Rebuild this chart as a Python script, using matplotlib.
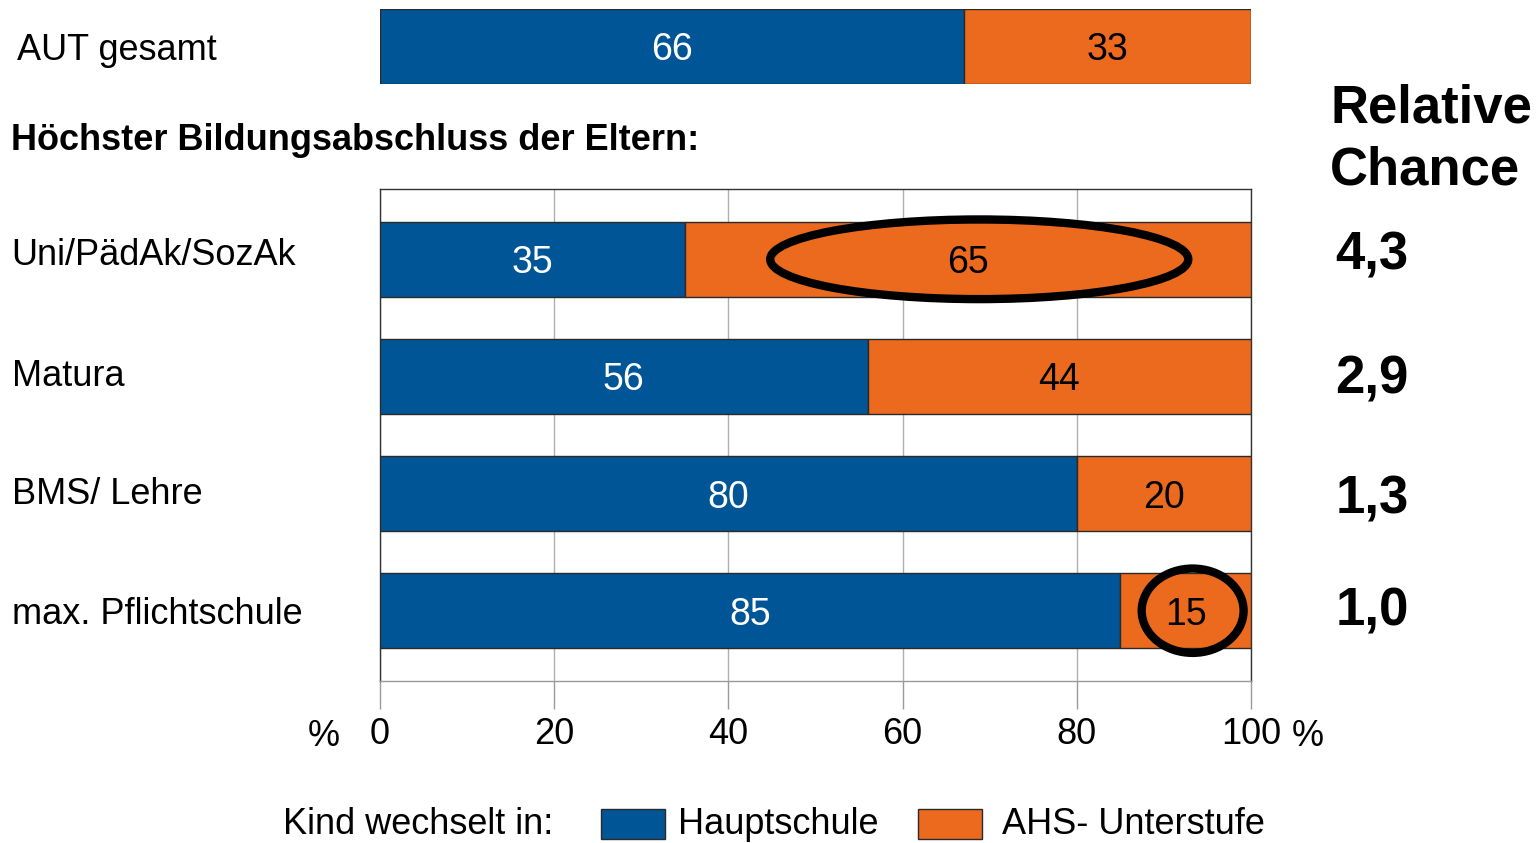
import matplotlib
matplotlib.use("Agg")
import matplotlib.pyplot as plt
from matplotlib.patches import Ellipse, Rectangle
import numpy as np

# ---- data ----
categories = ["Uni/PädAk/SozAk", "Matura", "BMS/ Lehre", "max. Pflichtschule"]
hauptschule = [35, 56, 80, 85]
ahs = [65, 44, 20, 15]
total_label = "AUT gesamt"
total_hauptschule = 67
total_ahs = 33
total_labels = ["66", "33"]
relative_chance = ["4,3", "2,9", "1,3", "1,0"]
xticks = [0, 20, 40, 60, 80, 100]
highlight_rows = [0, 3]  # rows whose AHS share is circled

BLUE = "#005596"
ORANGE = "#EB6A1D"
EDGE = "#2a2a2a"
SANS = ["Liberation Sans", "DejaVu Sans"]

plt.rcParams["font.family"] = SANS

W, H = 1540, 843
fig = plt.figure(figsize=(W / 100, H / 100), dpi=100)

def fx(px):
    return px / W

def fy(px):
    return 1 - px / H

NUM_FS = 27

# ---- top bar (AUT gesamt) ----
axt = fig.add_axes([fx(380), fy(84), fx(1251) - fx(380), (84 - 9) / H])
axt.barh([0], [total_hauptschule], color=BLUE, edgecolor=EDGE, linewidth=1, height=1.0)
axt.barh([0], [total_ahs], left=[total_hauptschule], color=ORANGE, edgecolor=EDGE,
         linewidth=1, height=1.0)
axt.text(total_hauptschule / 2, 0, total_labels[0], color="white", ha="center",
         va="center_baseline", fontsize=NUM_FS)
axt.text(total_hauptschule + total_ahs / 2, 0, total_labels[1], color="black", ha="center",
         va="center_baseline", fontsize=NUM_FS)
axt.set_xlim(0, 100)
axt.set_ylim(-0.5, 0.5)
axt.axis("off")
fig.text(fx(17), fy(47), total_label, fontsize=26, ha="left", va="center_baseline")

fig.text(fx(11), fy(137), "Höchster Bildungsabschluss der Eltern:", fontsize=26,
         fontweight="bold", ha="left", va="center_baseline")

# ---- main axes ----
ax = fig.add_axes([fx(380), fy(681), fx(1251) - fx(380), (681 - 189) / H])
y = np.arange(len(categories))
ax.barh(y, hauptschule, height=0.64, color=BLUE, edgecolor=EDGE, linewidth=1, zorder=3)
ax.barh(y, ahs, left=hauptschule, height=0.64, color=ORANGE, edgecolor=EDGE, linewidth=1,
        zorder=3)
for i in range(len(categories)):
    ax.text(hauptschule[i] / 2, y[i], str(hauptschule[i]), color="white", ha="center",
            va="center_baseline", fontsize=NUM_FS, zorder=5)
    ax.text(hauptschule[i] + ahs[i] / 2, y[i], str(ahs[i]), color="black", ha="center",
            va="center_baseline", fontsize=NUM_FS, zorder=5)

ax.set_xlim(0, 100)
ax.set_ylim(len(categories) - 0.4, -0.6)
ax.set_xticks(xticks)
ax.set_xticklabels([str(t) for t in xticks], fontsize=26)
ax.set_yticks([])
ax.tick_params(axis="x", length=20, width=1, color="#999999", pad=6)
ax.grid(axis="x", color="#b0b0b0", linewidth=1, zorder=0)
for side in ["top", "right", "bottom", "left"]:
    ax.spines[side].set_color("#333333")
    ax.spines[side].set_linewidth(1)
ax.spines["bottom"].set_color("#999999")

# highlight ellipses around AHS share
ell_w = [48, 11.7]
ell_h = [0.68, 0.72]
for k, r in enumerate(highlight_rows):
    cx = hauptschule[r] + ahs[r] / 2 + (1.3 if r == 0 else 0.8)
    e = Ellipse((cx, y[r]), ell_w[k], ell_h[k], fill=False, edgecolor="black",
                linewidth=6, zorder=6, clip_on=False)
    ax.add_patch(e)

# category labels
label_dy = [-0.07, -0.03, -0.03, 0.0]
for i, c in enumerate(categories):
    ax.text(-0.423, y[i] + label_dy[i], c, transform=ax.get_yaxis_transform(), ha="left",
            va="center_baseline", fontsize=26)
# percent marks
fig.text(fx(324), fy(733), "%", fontsize=26, ha="center", va="center_baseline")
fig.text(fx(1308), fy(733), "%", fontsize=26, ha="center", va="center_baseline")

# relative chance column
fig.text(fx(1330), fy(103), "Relative", fontsize=38, fontweight="bold",
         ha="left", va="center_baseline")
fig.text(fx(1330), fy(165), "Chance", fontsize=38, fontweight="bold",
         ha="left", va="center_baseline")
chance_dy = [-0.08, -0.02, 0.0, -0.04]
for i, v in enumerate(relative_chance):
    ax.text(1.097, y[i] + chance_dy[i], v, transform=ax.get_yaxis_transform(), fontsize=38,
            fontweight="bold", ha="left", va="center_baseline")

# legend
LEG_Y = 821
fig.text(fx(283), fy(LEG_Y), "Kind wechselt in:", fontsize=26, ha="left",
         va="center_baseline")
fig.patches.append(Rectangle((fx(601), fy(839)), fx(64), 30 / H, transform=fig.transFigure,
                             facecolor=BLUE, edgecolor=EDGE, linewidth=1))
fig.text(fx(678), fy(LEG_Y), "Hauptschule", fontsize=26, ha="left", va="center_baseline")
fig.patches.append(Rectangle((fx(918), fy(839)), fx(64), 30 / H, transform=fig.transFigure,
                             facecolor=ORANGE, edgecolor=EDGE, linewidth=1))
fig.text(fx(1002), fy(LEG_Y), "AHS- Unterstufe", fontsize=26, ha="left",
         va="center_baseline")

fig.savefig("out.png", dpi=100)
